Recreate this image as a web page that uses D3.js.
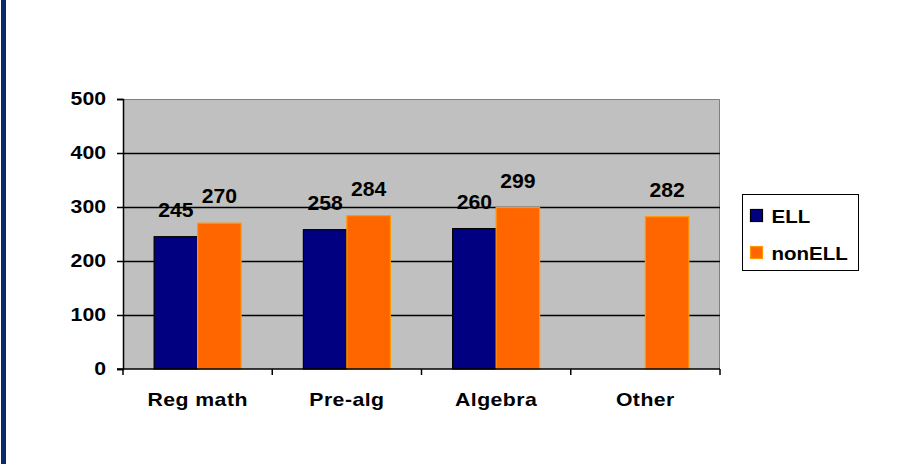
<!DOCTYPE html>
<html>
<head>
<meta charset="utf-8">
<script src="https://cdn.jsdelivr.net/npm/d3@7"></script>
<style>
  html, body { margin: 0; padding: 0; background: #ffffff; }
  svg { display: block; }
  text { font-family: Arial, "Liberation Sans", sans-serif; font-weight: bold; fill: #000; }
</style>
</head>
<body>
<svg id="chart" width="899" height="464"></svg>
<script>
// Scores by math course, ELL vs nonELL students
const categories = ["Reg math", "Pre-alg", "Algebra", "Other"];
const seriesNames = ["ELL", "nonELL"];
const ellValues = [245, 258, 260, null];
const nonEllValues = [270, 284, 299, 282];
const yTicks = [0, 100, 200, 300, 400, 500];

const seriesValues = { "ELL": ellValues, "nonELL": nonEllValues };
const fills = { "ELL": "#000080", "nonELL": "#FF6600" };
const strokes = { "ELL": "#000000", "nonELL": "#FF9900" };

// text is drawn slightly widened, like the original chart's typeface
function wideText(sel, xf, yf, size, sx) {
  return sel
    .attr("x", 0).attr("y", 0)
    .attr("transform", (d, i) => `translate(${xf(d, i)},${yf(d, i)}) scale(${sx},1)`)
    .attr("font-size", size);
}

const svg = d3.select("#chart");

// dark frame edge on the left
svg.append("rect").attr("x", 1).attr("y", 0).attr("width", 5).attr("height", 464).attr("fill", "#0b2a6a");

const plot = { left: 123, right: 720, top: 99, bottom: 369 };

const x = d3.scaleBand().domain(categories).range([plot.left, plot.right]).paddingInner(0).paddingOuter(0);
const xSub = d3.scaleBand().domain(seriesNames).range([0, x.bandwidth()]).paddingInner(0).paddingOuter(0.716);
const y = d3.scaleLinear().domain([0, 500]).range([plot.bottom, plot.top]);

// plot background
svg.append("rect")
  .attr("x", plot.left).attr("y", plot.top)
  .attr("width", plot.right - plot.left).attr("height", plot.bottom - plot.top)
  .attr("fill", "#C0C0C0");

// top and right plot border
svg.append("path")
  .attr("d", `M${plot.left},${plot.top + 0.5}H${plot.right - 0.5}V${plot.bottom}`)
  .attr("fill", "none").attr("stroke", "#808080").attr("stroke-width", 1);

// horizontal gridlines
svg.append("g").selectAll("line")
  .data(yTicks.filter(t => t > 0 && t < 500))
  .join("line")
  .attr("x1", plot.left).attr("x2", plot.right)
  .attr("y1", d => Math.round(y(d)) + 0.5).attr("y2", d => Math.round(y(d)) + 0.5)
  .attr("stroke", "#000").attr("stroke-width", 1.5);

// bars
const groups = svg.append("g").selectAll("g")
  .data(categories)
  .join("g")
  .attr("transform", d => `translate(${x(d)},0)`);

const barData = (c, i) => seriesNames.map(s => ({ s, v: seriesValues[s][i] })).filter(d => d.v != null);

groups.selectAll("rect")
  .data(barData)
  .join("rect")
  .attr("x", d => xSub(d.s))
  .attr("y", d => y(d.v))
  .attr("width", xSub.bandwidth())
  .attr("height", d => y(0) - y(d.v))
  .attr("fill", d => fills[d.s])
  .attr("stroke", d => strokes[d.s])
  .attr("stroke-width", 1.2);

// value labels
wideText(groups.selectAll("text").data(barData).join("text"),
    d => xSub(d.s) + xSub.bandwidth() / 2,
    d => y(d.v) - 20, 20, 1.06)
  .attr("text-anchor", "middle")
  .text(d => d.v);

// y axis
const YSX = 1.18;
const yAxis = svg.append("g")
  .attr("transform", `translate(${plot.left},0)`)
  .call(d3.axisLeft(y).tickValues(yTicks).tickSize(6).tickPadding(11));
yAxis.select(".domain").attr("stroke", "#000").attr("stroke-width", 1.5);
yAxis.selectAll(".tick line").attr("stroke", "#000").attr("stroke-width", 1.5);
yAxis.selectAll(".tick text")
  .attr("x", -17 / YSX)
  .attr("transform", `scale(${YSX},1)`)
  .attr("font-size", 18)
  .attr("font-family", "Arial, 'Liberation Sans', sans-serif")
  .attr("font-weight", "bold");

// x axis with ticks at category boundaries
const xAxisG = svg.append("g").attr("transform", `translate(0,${plot.bottom})`);
xAxisG.append("line")
  .attr("x1", plot.left - 6).attr("x2", plot.right)
  .attr("y1", 0).attr("y2", 0)
  .attr("stroke", "#000").attr("stroke-width", 1.5);
const boundaries = categories.map(c => x(c)).concat([x(categories[categories.length - 1]) + x.bandwidth()]);
xAxisG.selectAll("line.tick")
  .data(boundaries)
  .join("line")
  .attr("class", "tick")
  .attr("x1", d => d).attr("x2", d => d)
  .attr("y1", 0).attr("y2", 6)
  .attr("stroke", "#000").attr("stroke-width", 1.5);
wideText(xAxisG.selectAll("text").data(categories).join("text"),
    d => x(d) + x.bandwidth() / 2,
    () => 37, 18, 1.18)
  .attr("text-anchor", "middle")
  .attr("letter-spacing", 0.4)
  .text(d => d);

// legend
const legend = svg.append("g").attr("transform", "translate(742.5,194.5)");
legend.append("rect").attr("width", 116).attr("height", 76)
  .attr("fill", "#fff").attr("stroke", "#000").attr("stroke-width", 1);
const items = legend.selectAll("g")
  .data(seriesNames)
  .join("g")
  .attr("transform", (d, i) => `translate(8,${15 + i * 37})`);
items.append("rect").attr("width", 12).attr("height", 12)
  .attr("fill", d => fills[d]).attr("stroke", d => strokes[d]).attr("stroke-width", 1.2);
wideText(items.append("text"), () => 21, () => 13, 19, 1.08)
  .text(d => d);
</script>
</body>
</html>
